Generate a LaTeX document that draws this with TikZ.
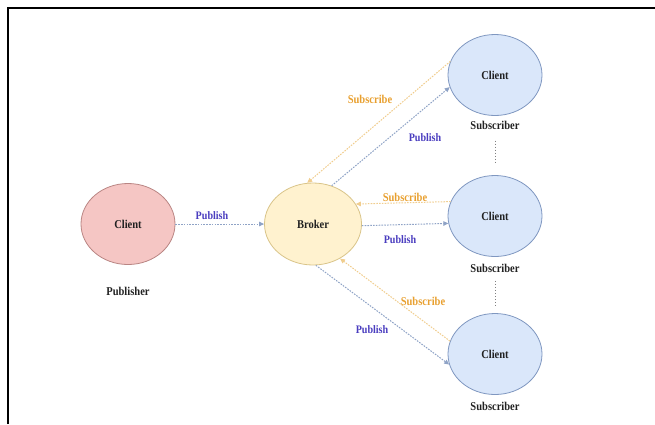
\documentclass[tikz,border=0pt]{standalone}
\usepackage{fontspec}
\setmainfont{Liberation Serif}[FakeStretch=0.88]
\usetikzlibrary{shapes.geometric,arrows.meta}
\definecolor{pubfill}{HTML}{F5C6C4}
\definecolor{pubdraw}{HTML}{B98583}
\definecolor{brkfill}{HTML}{FFF2CF}
\definecolor{brkdraw}{HTML}{D9C489}
\definecolor{subfill}{HTML}{DAE7FA}
\definecolor{subdraw}{HTML}{7F97C0}
\definecolor{publine}{HTML}{8FA3C6}
\definecolor{subline}{HTML}{F0CD8E}
\definecolor{pubtext}{HTML}{4A3DBF}
\definecolor{subtext}{HTML}{E8A030}
\definecolor{txt}{HTML}{222222}
\begin{document}
\begin{tikzpicture}[x=1bp,y=-1bp,
  every node/.style={font=\fontsize{12}{14}\selectfont\bfseries, text=txt},
  cnode/.style={ellipse, line width=0.8bp, minimum width=94bp, minimum height=81bp, inner sep=0pt},
  pubnode/.style={cnode, draw=pubdraw, fill=pubfill},
  brknode/.style={cnode, draw=brkdraw, fill=brkfill, minimum width=97bp, minimum height=82bp},
  subnode/.style={cnode, draw=subdraw, fill=subfill},
  publink/.style={draw=publine, line width=1bp, dash pattern=on 1.6bp off 1.2bp, -{Triangle[length=5bp,width=4.5bp]}},
  sublink/.style={draw=subline, line width=1bp, dash pattern=on 1.6bp off 1.2bp, -{Triangle[length=5bp,width=4.5bp]}},
  publbl/.style={text=pubtext, font=\fontsize{11.5}{14}\selectfont\bfseries},
  sublbl/.style={text=subtext, font=\fontsize{12}{14}\selectfont\bfseries},
  vdots/.style={draw=gray, line width=0.7bp, dash pattern=on 1.5bp off 1.5bp}
]
\useasboundingbox (0,0) rectangle (655,424);
% frame
\coordinate (fa) at (8,424);
\coordinate (fb) at (8,8);
\coordinate (fc) at (655,8);
\draw[line width=2bp] (fa) -- (fb) -- (fc);

% nodes
\node[pubnode] (pub) at (128,224) {Client};
\node (publab) at (128,291) {Publisher};
\node[brknode] (broker) at (313,224) {Broker};
\node[subnode] (s1) at (495,75) {Client};
\node (sub1) at (495,125) {Subscriber};
\node[subnode] (s2) at (495,216) {Client};
\node (sub2) at (495,268) {Subscriber};
\node[subnode] (s3) at (495,354) {Client};
\node (sub3) at (495,406) {Subscriber};

% connectors
\draw[publink] (pub.east) -- (broker.west);
\node[publbl] at (212,216) {Publish};

\draw[sublink] (s1.163) -- (broker.98);
\draw[publink] (broker.64) -- (s1.195);
\node[sublbl] at (370,99) {Subscribe};
\node[publbl] at (425,138) {Publish};

\draw[sublink] (s2.162) -- (broker.25);
\draw[publink] (broker.-2) -- (s2.189);
\node[sublbl] at (405,197) {Subscribe};
\node[publbl] at (400,240) {Publish};

\draw[sublink] (s3.164) -- (broker.-52);
\draw[publink] (broker.-86) -- (s3.193);
\node[sublbl] at (423,301) {Subscribe};
\node[publbl] at (372,330) {Publish};

% vertical dashed links
\draw[vdots, shorten <=8bp, shorten >=12bp] (sub1.south) -- (s2.north);
\draw[vdots, shorten <=5bp, shorten >=8bp] (sub2.south) -- (s3.north);
\end{tikzpicture}
\end{document}
